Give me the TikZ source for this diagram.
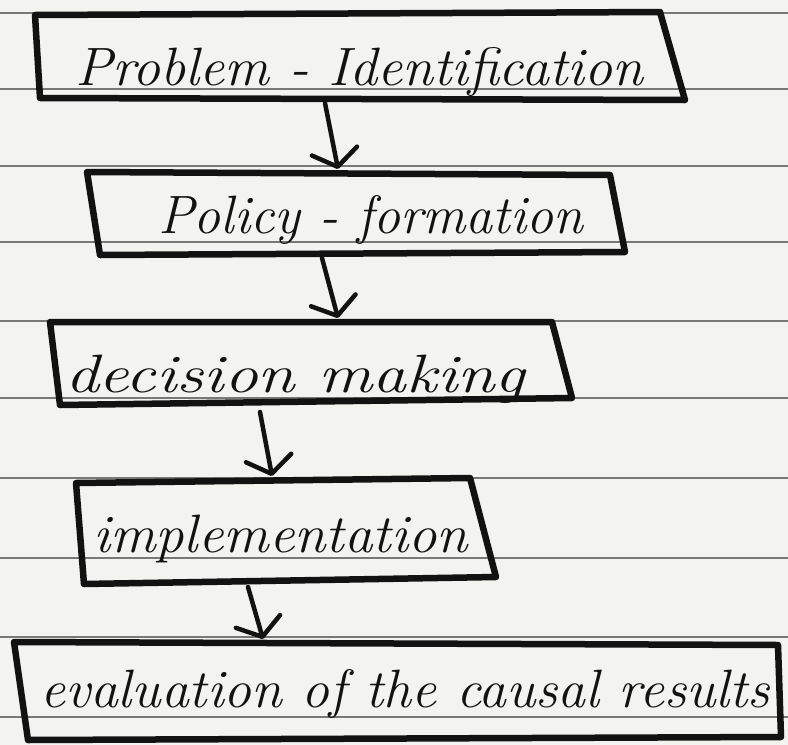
\documentclass[tikz,border=0pt]{standalone}
\usepackage{graphicx}
\usetikzlibrary{arrows.meta,fit}
\definecolor{paper}{RGB}{243,243,241}
\definecolor{rule}{RGB}{120,120,120}
\definecolor{ink}{RGB}{18,18,18}
% handwritten-style label: italic, stretched horizontally to a given width
\newcommand\hwtext[2]{\resizebox{#1}{\height}{\fontsize{54}{60}\selectfont\itshape #2}}
\begin{document}
\begin{tikzpicture}[x=1pt,y=-1pt,
  ruled/.style={draw=rule, line width=1.4pt},
  boxline/.style={draw=ink, line width=6.5pt, line join=round, line cap=round},
  area/.style={inner sep=0pt, outer sep=0pt, draw=none},
  hand/.style={inner sep=0pt, outer sep=0pt, text=ink, anchor=base west},
  flow/.style={draw=ink, line width=4.5pt, line cap=round,
    -{Straight Barb[length=16pt,width=46pt,round]}}]

% paper
\fill[paper] (0,0) rectangle (788,745);
\useasboundingbox (0,0) rectangle (788,745);
\foreach \y in {13,89,166,242,321,398,478,558,637,717}
  \draw[ruled] (0,\y) -- (788,\y);

% stage boxes
\draw[boxline] (35,15) -- (660,12) -- (685,100) -- (40,98) -- cycle;
\node[area, fit={(35,15) (660,12) (685,100) (40,98)}] (b1) {};

\draw[boxline] (87,172) -- (610,175) -- (625,252) -- (100,255) -- cycle;
\node[area, fit={(87,172) (610,175) (625,252) (100,255)}] (b2) {};

\draw[boxline] (50,322) -- (552,322) -- (572,398) -- (60,405) -- cycle;
\node[area, fit={(50,322) (552,322) (572,398) (60,405)}] (b3) {};

\draw[boxline] (76,483) -- (470,478) -- (496,577) -- (84,584) -- cycle;
\node[area, fit={(76,483) (470,478) (496,577) (84,584)}] (b4) {};

\draw[boxline] (14,642) -- (778,645) -- (781,737) -- (28,740) -- cycle;
\node[area, fit={(14,642) (778,645) (781,737) (28,740)}] (b5) {};

% labels
\node[hand] (t1) at (75,85)  {\hwtext{568pt}{Problem - Identification}};
\node[hand] (t2) at (158,233) {\hwtext{425pt}{Policy - formation}};
\node[hand] (t3) at (65,392)  {\hwtext{460pt}{decision making}};
\node[hand] (t4) at (93,552)  {\hwtext{375pt}{implementation}};
\node[hand] (t5) at (40,707)  {\hwtext{730pt}{evaluation of the causal results}};

% flow arrows
\draw[flow] ([xshift=-35pt,yshift=-3pt]b1.south) -- ([xshift=-18pt,yshift=3pt]b2.north);
\draw[flow] ([xshift=-34pt,yshift=-3pt]b2.south) -- ([xshift=27pt,yshift=4pt]b3.north);
\draw[flow] ([xshift=-51pt,yshift=-7pt]b3.south) -- ([xshift=-14pt,yshift=2pt]b4.north);
\draw[flow] ([xshift=-38pt,yshift=-3pt]b4.south) -- ([xshift=-134.5pt,yshift=3pt]b5.north);
\end{tikzpicture}
\end{document}
